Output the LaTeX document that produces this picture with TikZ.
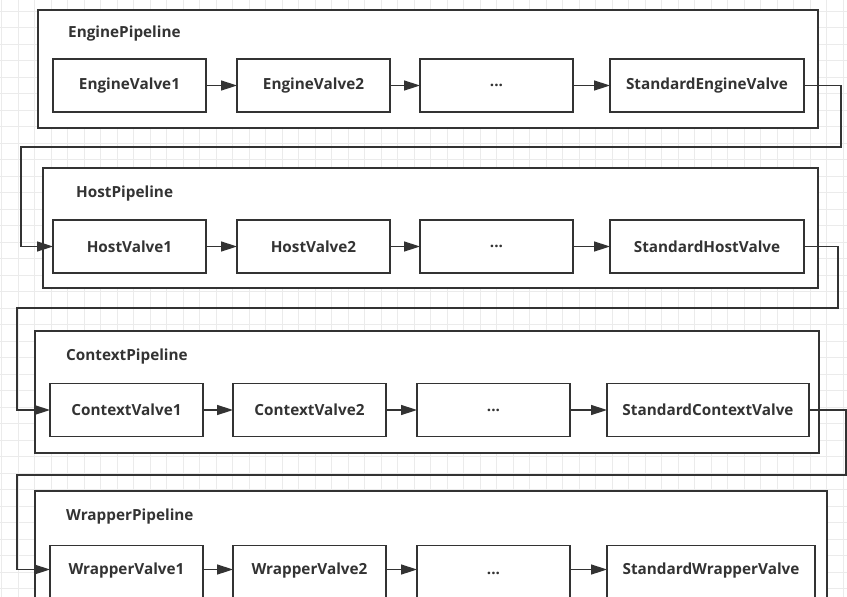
\documentclass[tikz,border=0pt]{standalone}
\usepackage{fontspec}
\setmainfont{Open Sans}
\usetikzlibrary{arrows.meta}
\usetikzlibrary{positioning}

\definecolor{ink}{HTML}{333333}
\definecolor{gridgray}{HTML}{EBEBEB}

\tikzset{
	valve/.style={draw=ink, line width=1.5pt, fill=white, inner sep=0pt, outer sep=0pt,
		minimum width=153pt, minimum height=53pt, text=ink,
		font=\bfseries\fontsize{15.3}{18}\selectfont},
	stdvalve/.style={valve, minimum width=194pt},
	pipe/.style={draw=ink, line width=1.5pt, fill=white, inner sep=0pt},
	pipelabel/.style={anchor=west, inner sep=0pt, text=ink,
		font=\bfseries\fontsize{15.3}{18}\selectfont},
	flow/.style={draw=ink, line width=1.5pt, -{Triangle[length=16pt,width=10pt]}},
	gridline/.style={draw=gridgray, line width=0.8pt}
}

\begin{document}
\begin{tikzpicture}[x=1pt, y=-1pt]
	\useasboundingbox (0,0) rectangle (847,597);
	\clip (0,0) rectangle (847,597);
	\fill[white] (0,0) rectangle (847,597);
	% background grid
	\foreach \gx in {0,...,51}
		\draw[gridline] ({1.7+16.5*\gx},0) -- ({1.7+16.5*\gx},597);
	\foreach \gy in {0,...,37}
		\draw[gridline] (0,{-5.5+16.5*\gy}) -- (847,{-5.5+16.5*\gy});

	% pipelines
	\node[pipe, minimum width=780pt, minimum height=118pt] (engine) at (428,69) {};
	\node[pipe, minimum width=775pt, minimum height=120pt] (host) at (430.5,228) {};
	\node[pipe, minimum width=784pt, minimum height=122pt] (context) at (427,392) {};
	\node[pipe, minimum width=792pt, minimum height=129pt] (wrapper) at (431,555.5) {};

	\node[pipelabel] (enginelabel) at (68,34) {EnginePipeline};
	\node[pipelabel] (hostlabel) at (76,194) {HostPipeline};
	\node[pipelabel] (contextlabel) at (66,357) {ContextPipeline};
	\node[pipelabel] (wrapperlabel) at (66,517) {WrapperPipeline};

	% engine valves
	\node[valve] (ev1) at (129.5,85.5) {EngineValve1};
	\node[valve] (ev2) [right=31pt of ev1] {EngineValve2};
	\node[valve] (ed) [right=30pt of ev2] {...};
	\node[stdvalve] (sev) [right=37pt of ed] {StandardEngineValve};
	\draw[flow] (ev1) -- (ev2);
	\draw[flow] (ev2) -- (ed);
	\draw[flow] (ed) -- (sev);

	% host valves
	\node[valve] (hv1) at (129.5,246.5) {HostValve1};
	\node[valve] (hv2) [right=31pt of hv1] {HostValve2};
	\node[valve] (hd) [right=30pt of hv2] {...};
	\node[stdvalve] (shv) [right=37pt of hd] {StandardHostValve};
	\draw[flow] (hv1) -- (hv2);
	\draw[flow] (hv2) -- (hd);
	\draw[flow] (hd) -- (shv);

	% context valves
	\node[valve] (cv1) at (126.5,410) {ContextValve1};
	\node[valve] (cv2) [right=30pt of cv1] {ContextValve2};
	\node[valve] (cd) [right=31pt of cv2] {...};
	\node[stdvalve, minimum width=202pt] (scv) [right=37pt of cd] {StandardContextValve};
	\draw[flow] (cv1) -- (cv2);
	\draw[flow] (cv2) -- (cd);
	\draw[flow] (cd) -- (scv);

	% wrapper valves (cut off by the lower edge)
	\begin{scope}[every node/.append style={minimum height=58pt, text height=11pt, text depth=6pt}]
	\node[valve] (wv1) at (126.5,572) {WrapperValve1};
	\node[valve] (wv2) [right=30pt of wv1] {WrapperValve2};
	\node[valve] (wd) [right=31pt of wv2] {...};
	\node[stdvalve, minimum width=208pt] (swv) [right=37pt of wd] {StandardWrapperValve};
	\end{scope}
	\draw[flow] ([yshift=2.5pt]wv1.east) -- ([yshift=2.5pt]wv2.west);
	\draw[flow] ([yshift=2.5pt]wv2.east) -- ([yshift=2.5pt]wd.west);
	\draw[flow] ([yshift=2.5pt]wd.east) -- ([yshift=2.5pt]swv.west);

	% hand over to the next pipeline
	\draw[flow] (sev.east) -- ++(37pt,0) |- (21,147) |- (hv1.west);
	\draw[flow] (shv.east) -- ++(34pt,0) |- (17,308) |- (cv1.west);
	\draw[flow] (scv.east) -- ++(37pt,0) |- (17,475) |- ([yshift=2.5pt]wv1.west);
\end{tikzpicture}
\end{document}
